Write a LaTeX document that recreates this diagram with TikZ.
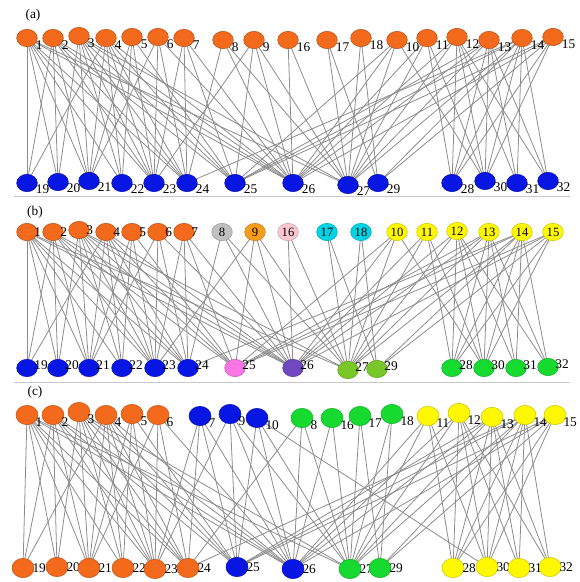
\documentclass[tikz,border=0pt]{standalone}
\usepackage{fontspec}
\setmainfont{Liberation Serif}
\usetikzlibrary{shapes.geometric,backgrounds}

\definecolor{orng}{RGB}{243,106,28}
\definecolor{blu}{RGB}{8,22,228}
\definecolor{gry}{RGB}{192,192,192}
\definecolor{ambr}{RGB}{246,158,28}
\definecolor{pnk}{RGB}{250,200,206}
\definecolor{cyn}{RGB}{0,212,228}
\definecolor{yllw}{RGB}{255,248,0}
\definecolor{mgnt}{RGB}{250,118,228}
\definecolor{prpl}{RGB}{112,72,192}
\definecolor{ygrn}{RGB}{122,200,40}
\definecolor{grn}{RGB}{22,218,48}

\begin{document}
\begin{tikzpicture}[x=0.75pt,y=-0.75pt]
  \tikzstyle{vtx}=[draw, ellipse, minimum width=15.5pt, minimum height=13pt, inner sep=0pt,
    line width=0.4pt, font=\fontsize{9.5}{9.5}\selectfont]
  \tikzstyle{bigvtx}=[vtx, minimum width=16.5pt, minimum height=14.5pt]
  \tikzstyle{num}=[font=\fontsize{10}{10}\selectfont, inner sep=0pt]
  \tikzstyle{edge}=[draw=black!45, line width=0.6pt]
  \tikzstyle{sep}=[draw=black!22, line width=0.7pt]
  \useasboundingbox (0,0) rectangle (579,582);

  % Panel (a)
  \node[num] (tagA) at (33,15) {(a)};
  \foreach \n/\x/\y in {1/27/38, 2/53/38, 3/79/36, 4/106/38, 5/132/37, 6/158/37, 7/184/38,
      8/223/40, 9/254/40, 16/288/40, 17/327/40, 18/361/38, 10/397/40, 11/427/38,
      12/457/37, 13/489/40, 14/522/38, 15/553/37}
    \node[vtx, fill=orng, draw=orng!75!black, label={[num, xshift=-1.5pt, yshift=-5.25pt]0:\n}] (a\n) at (\x,\y) {};
  \foreach \n/\x/\y in {19/27/183, 20/58/182, 21/89/181, 22/122/183, 23/154/183, 24/187/183,
      25/235/183, 26/293/183, 27/348/185, 29/378/183, 28/452/183, 30/485/181,
      31/517/183, 32/548/181}
    \node[vtx, fill=blu, draw=blu!70!black, label={[num, xshift=-1.5pt, yshift=-4.5pt]0:\n}] (a\n) at (\x,\y) {};
  \draw[sep] (14,196) -- (570,196);

  % Panel (b)
  \node[num] (tagB) at (35,212) {(b)};
  \foreach \n/\x/\y in {1/27/232, 2/53/232, 3/79/230, 4/106/232, 5/132/232, 6/158/232, 7/184/232}
    \node[vtx, fill=orng, draw=orng!75!black, label={[num, xshift=-2.6pt]0:\n}] (b\n) at (\x,\y) {};
  \foreach \n/\x/\y/\c in {8/222/232/gry, 9/255/232/ambr, 16/288/232/pnk, 17/327/232/cyn,
      18/361/232/cyn, 10/397/232/yllw, 11/427/232/yllw, 12/457/231/yllw,
      13/489/232/yllw, 14/522/232/yllw, 15/553/232/yllw}
    \node[vtx, fill=\c, draw=\c!80!black] (b\n) at (\x,\y) {\n};
  \foreach \n/\x/\y/\c in {19/27/368/blu, 20/58/368/blu, 21/89/368/blu, 22/122/368/blu,
      23/155/368/blu, 24/188/368/blu, 25/235/368/mgnt, 26/293/368/prpl,
      27/348/370/ygrn, 29/377/369/ygrn, 28/452/368/grn, 30/484/368/grn,
      31/516/368/grn, 32/548/367/grn}
    \node[vtx, fill=\c, draw=\c!80!black, label={[num, xshift=-2.6pt, yshift=2.25pt]0:\n}] (b\n) at (\x,\y) {};
  \draw[sep] (14,382) -- (570,382);

  % Panel (c)
  \node[num] (tagC) at (35,392) {(c)};
  \foreach \n/\x/\y/\c in {1/27/415/orng, 2/53/415/orng, 3/79/412/orng, 4/106/415/orng,
      5/132/414/orng, 6/158/415/orng, 7/200/416/blu, 9/230/414/blu, 10/257/418/blu,
      8/302/418/grn, 16/332/418/grn, 17/360/416/grn, 18/392/414/grn,
      11/428/416/yllw, 12/459/413/yllw, 13/492/417/yllw, 14/525/415/yllw, 15/555/415/yllw}
    \node[bigvtx, fill=\c, draw=\c!80!black, label={[num, xshift=-2.25pt, yshift=-5.25pt]0:\n}] (c\n) at (\x,\y) {};
  \foreach \n/\x/\y/\c in {19/23/568/orng, 20/57/567/orng, 21/89/568/orng, 22/123/568/orng,
      23/155/569/orng, 24/188/568/orng, 25/237/567/blu, 26/293/569/blu,
      27/350/569/grn, 29/380/568/grn, 28/453/568/yllw, 30/487/567/yllw,
      31/519/568/yllw, 32/550/567/yllw}
    \node[bigvtx, fill=\c, draw=\c!80!black, label={[num, xshift=-1.5pt]0:\n}] (c\n) at (\x,\y) {};

  % Memberships (same graph in every panel)
  \begin{pgfonlayer}{background}
    \foreach \p in {a,b,c}
      \foreach \s/\ts in {1/{19,20,21,22,23,24,26,27}, 2/{19,20,21,23,24,25,26},
          3/{20,21,22,23,24,25,26,27}, 4/{19,21,22,23,24,25,26}, 5/{21,22,23,25},
          6/{21,23,24,26}, 7/{23,24,25,26}, 8/{24,26,27}, 9/{23,25,26,27},
          10/{25,26,27,30}, 11/{26,27,28,30}, 12/{26,27,28,30,31,32},
          13/{25,26,27,28,30,31,32}, 14/{24,25,27,28,29,30,31,32},
          15/{25,26,28,29,30}, 16/{26,27}, 17/{27,29}, 18/{27,29}}
        \foreach \t in \ts
          \draw[edge] (\p\s.center) -- (\p\t.center);
  \end{pgfonlayer}
\end{tikzpicture}
\end{document}
